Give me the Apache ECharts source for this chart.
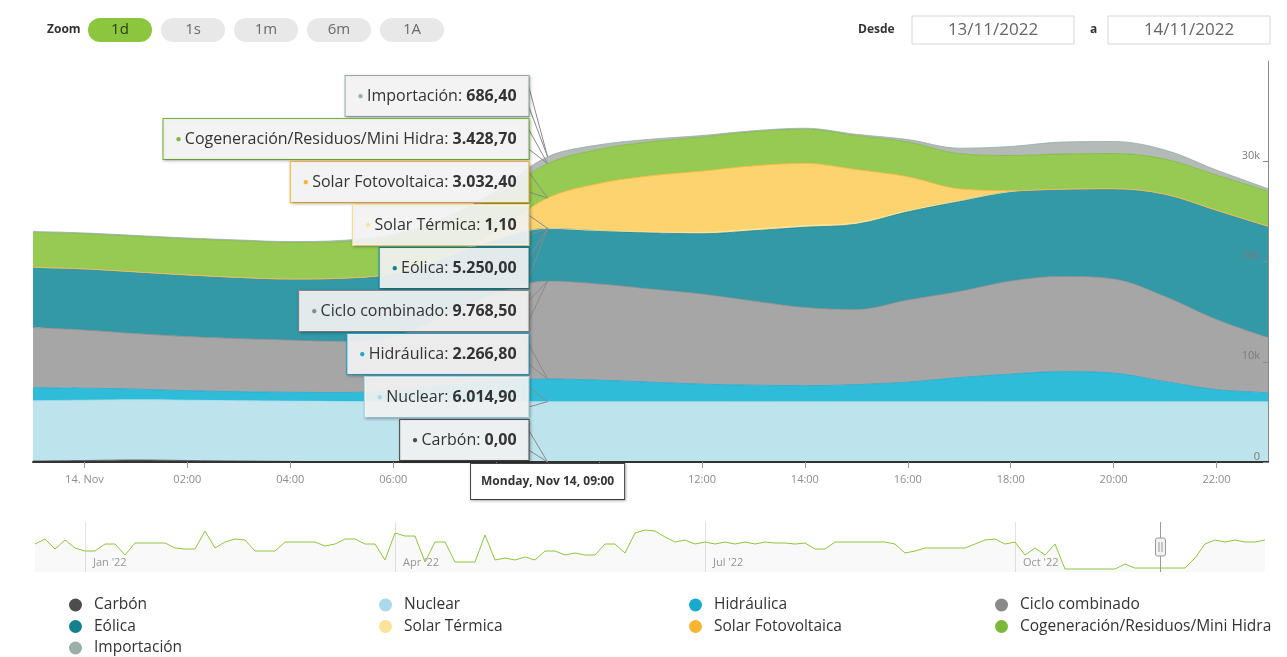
<!DOCTYPE html>
<html><head><meta charset="utf-8">
<script src="https://cdn.jsdelivr.net/npm/echarts@6/dist/echarts.min.js"></script>
<style>html,body{margin:0;padding:0;background:#fff}#c{width:1287px;height:657px}</style>
</head><body><div id="c"></div>
<script>
// ---- data ----
const categories = ['23:00','00:00','01:00','02:00','03:00','04:00','05:00','06:00','07:00','08:00','09:00','10:00','11:00','12:00','13:00','14:00','15:00','16:00','17:00','18:00','19:00','20:00','21:00','22:00','23:00'];
const xTickLabels = ['','14. Nov','','02:00','','04:00','','06:00','','08:00','','10:00','','12:00','','14:00','','16:00','','18:00','','20:00','','22:00',''];
const seriesNames = ['Carbón','Nuclear','Hidráulica','Ciclo combinado','Eólica','Solar Térmica','Solar Fotovoltaica','Cogeneración/Residuos/Mini Hidra','Importación'];
const carbon = [100,150,200,150,100,60,20,0,0,0,0,0,0,0,0,0,0,0,0,0,0,0,0,0,0];
const nuclear = [6016,6015,6015,6014,6015,6016,6015,6015,6014,6015,6014.9,6015,6016,6015,6014,6015,6015,6016,6015,6014,6015,6015,6016,6015,6015];
const hydro = [1300,1200,1050,950,900,880,900,1100,1600,2000,2266.8,2150,1950,1750,1650,1600,1700,1950,2400,2750,3000,2850,2000,1200,900];
const ciclo = [6000,5800,5550,5400,5300,5200,5100,5400,7000,8800,9768.5,9600,9300,9000,8400,7800,7500,8200,8600,9300,9500,9400,8500,7000,5500];
const eolica = [6000,6100,6150,6150,6100,6100,6300,6300,5800,5400,5250,5300,5600,6000,7000,8000,8500,8800,9000,8900,8700,9000,10200,10900,11100];
const solarTermica = [2,2,2,2,2,2,2,2,2,1,1.1,20,80,150,180,180,150,100,40,10,3,3,3,3,3];
const solarFV = [0,0,0,0,0,0,0,0,30,800,3032.4,4700,5600,6100,6300,6200,5300,3400,1200,100,0,0,0,0,0];
const cogen = [3500,3500,3550,3600,3650,3650,3650,3600,3500,3450,3428.7,3400,3400,3400,3400,3400,3400,3450,3500,3500,3500,3500,3500,3500,3500];
const importacion = [80,80,80,80,80,80,120,250,400,550,686.4,450,250,150,100,100,120,250,550,900,1200,1200,900,500,250];
const yTicks = [0,10000,20000,30000,40000];
const tipCategory = '09:00';
const tipHeader = 'Monday, Nov 14, 09:00';
// navigator (overview line)
const navigatorSeries = [28,33,23,32,24,21,21,28,28,17,29,29,29,29,24,23,23,41,24,30,33,32,21,21,21,30,30,30,30,26,28,33,33,28,28,12,39,36,36,10,30,30,10,10,10,37,12,14,12,15,12,21,21,17,19,17,17,28,28,19,39,42,41,35,30,32,28,30,28,30,28,30,28,30,29,29,28,29,23,23,30,30,30,30,30,30,28,19,21,24,24,24,24,24,28,32,33,28,30,17,24,17,28,3,3,3,3,3,3,8,4,4,4,4,4,4,14,28,32,30,32,30,30,32];
const navLabelIdx = [5,36,67,98];
const navLabelText = ["Jan '22","Apr '22","Jul '22","Oct '22"];
const navHandleIdx = 112.5;
const zoomButtons = ['1d','1s','1m','6m','1A'];
const dateFrom = '13/11/2022', dateTo = '14/11/2022';

// ---- styles ----
const FONT = '"Open Sans", "Noto Sans", sans-serif';
const legendColors = ['#4d4d4d','#a9d9ea','#1aa9cf','#8a8a8a','#12808f','#fde29a','#f7b531','#7cb83a','#9aafa8'];
const areaColors = ['#4d4d4d','#bde3ed','#2fbcd9','#a6a6a6','#3399a7','#fde39b','#fcd36f','#96ca53','#b3bab8'];
const seriesData = [carbon,nuclear,hydro,ciclo,eolica,solarTermica,solarFV,cogen,importacion];

function fmt(v){
  const s = v.toFixed(2); let [i,d] = s.split('.');
  i = i.replace(/\B(?=(\d{3})+(?!\d))/g,'.');
  return i + ',' + d;
}

const chart = echarts.init(document.getElementById('c'));
const series = seriesData.map((arr,k)=>({
  name: seriesNames[k], type:'line', stack:'total', data: arr,
  xAxisIndex:0, yAxisIndex:0,
  symbol:'none', smooth:0.35,
  itemStyle:{color: legendColors[k]},
  lineStyle:{width:1, color: legendColors[k], opacity:0.8},
  areaStyle:{color: areaColors[k], opacity:1},
  emphasis:{disabled:true}
}));
series.push({
  type:'line', data: navigatorSeries, xAxisIndex:1, yAxisIndex:1,
  symbol:'none', lineStyle:{width:1, color:'#8cc63f'},
  areaStyle:{color:'rgba(0,0,0,0.035)'}, silent:true
});

const legendCols = [
  {names:['Carbón','Eólica','Importación'], left:69},
  {names:['Nuclear','Solar Térmica'], left:379},
  {names:['Hidráulica','Solar Fotovoltaica'], left:689},
  {names:['Ciclo combinado','Cogeneración/Residuos/Mini Hidra'], left:995}
];

const option = {
  animation:false,
  textStyle:{fontFamily: FONT},
  grid:[
    {left:33, right:19, top:61, height:401, containLabel:false},
    {left:35, right:22, top:522, height:50}
  ],
  xAxis:[
    {type:'category', gridIndex:0, data:categories, boundaryGap:false, z:5,
     axisLine:{lineStyle:{color:'#333', width:2}},
     axisTick:{interval:(i)=>xTickLabels[i]!=='', length:6, lineStyle:{color:'#999'}},
     axisLabel:{interval:0, formatter:(v,i)=>xTickLabels[i], color:'#8c8c8c', fontSize:11, margin:12},
     splitLine:{show:false}},
    {type:'category', gridIndex:1, data:navigatorSeries.map((_,i)=>i), boundaryGap:false,
     axisLine:{show:false}, axisTick:{show:false},
     axisLabel:{inside:true, interval:0, margin:4, align:'left', padding:[0,0,0,8],
       formatter:(v,i)=>{const k=navLabelIdx.indexOf(i); return k>=0?navLabelText[k]:'';}, color:'#999', fontSize:11},
     splitLine:{show:true, interval:(i)=>navLabelIdx.indexOf(i)>=0, lineStyle:{color:'#e3e3e3'}}}
  ],
  yAxis:[
    {type:'value', gridIndex:0, position:'right', min:yTicks[0], max:yTicks[yTicks.length-1], interval:10000, z:5,
     axisLine:{show:true, lineStyle:{color:'#8a8a8a'}},
     axisTick:{show:true, inside:true, length:5, lineStyle:{color:'#8a8a8a'}},
     axisLabel:{inside:true, margin:8, showMaxLabel:false, verticalAlign:'bottom', color:'#7a7a7a', fontSize:11,
       formatter:(v)=> v===0?'0':(v/1000)+'k'},
     splitLine:{show:false}},
    {type:'value', gridIndex:1, min:0, max:50, show:false}
  ],
  legend: legendCols.map(c=>({
    data:c.names, orient:'vertical', left:c.left, top:597, padding:0, itemWidth:13, itemHeight:13, itemGap:5.5,
    icon:'circle', textStyle:{fontSize:15.5, color:'#333', lineHeight:16, padding:[0,0,0,7], fontFamily:FONT}
  })),
  series
};
chart.setOption(option);

// ---- overlays (controls, split tooltip, navigator handle) ----
const g = [];
g.push({type:'text', z:100, style:{x:47, y:30, text:'Zoom', verticalAlign:'middle', font:'bold 12px '+FONT, fill:'#333'}});
zoomButtons.forEach((b,i)=>{
  const x = 88 + i*73;
  g.push({type:'rect', z:100, shape:{x:x, y:18, width:64, height:24, r:12}, style:{fill: i===0?'#8cc63f':'#e8e8e8'}});
  g.push({type:'text', z:101, style:{x:x+32, y:30, text:b, align:'center', verticalAlign:'middle', font:'15px '+FONT, fill: i===0?'#2a3a18':'#6a6a6a'}});
});
g.push({type:'text', z:100, style:{x:858, y:30, text:'Desde', verticalAlign:'middle', font:'bold 12px '+FONT, fill:'#333'}});
g.push({type:'rect', z:100, shape:{x:912, y:16, width:162, height:28}, style:{fill:'#fff', stroke:'#d6d6d6', lineWidth:1}});
g.push({type:'text', z:101, style:{x:993, y:30, text:dateFrom, align:'center', verticalAlign:'middle', font:'17px '+FONT, fill:'#666'}});
g.push({type:'text', z:100, style:{x:1090, y:30, text:'a', verticalAlign:'middle', font:'bold 12px '+FONT, fill:'#333'}});
g.push({type:'rect', z:100, shape:{x:1108, y:16, width:162, height:28}, style:{fill:'#fff', stroke:'#d6d6d6', lineWidth:1}});
g.push({type:'text', z:101, style:{x:1189, y:30, text:dateTo, align:'center', verticalAlign:'middle', font:'17px '+FONT, fill:'#666'}});

// split tooltip
const tipIndex = categories.indexOf(tipCategory);
let cum = 0; const items = [];
seriesData.forEach((arr,k)=>{
  cum += arr[tipIndex];
  const p = chart.convertToPixel({xAxisIndex:0, yAxisIndex:0}, [tipIndex, cum]);
  items.push({k, ax:p[0], ay:p[1], val:arr[tipIndex]});
});
items.reverse();
const H = 40, GAP = 3, TOP = 62, BOTTOM = 460;
const ys = items.map(it=>it.ay - H/2);
for (let i=1;i<ys.length;i++) ys[i] = Math.max(ys[i], ys[i-1]+H+GAP);
if (ys[ys.length-1]+H > BOTTOM) ys[ys.length-1] = BOTTOM-H;
for (let i=ys.length-2;i>=0;i--) ys[i] = Math.min(ys[i], ys[i+1]-H-GAP);
if (ys[0] < TOP) { const d = TOP-ys[0]; for (let i=0;i<ys.length;i++) ys[i]+=d; }
items.forEach((it,i)=>{
  const bx = it.ax - 19, cy = ys[i] + H/2;
  const col = legendColors[it.k];
  g.push({type:'polyline', z:99, shape:{points:[[bx, ys[i]+10],[it.ax, it.ay],[bx, ys[i]+H-10]]},
    style:{fill:'none', stroke: '#8a8a8a', lineWidth:1}});
  g.push({type:'text', z:100, style:{
    x:bx, y:cy, align:'right', verticalAlign:'middle',
    text:'{d|●} {n|'+seriesNames[it.k]+': }{v|'+fmt(it.val)+'}',
    rich:{
      d:{fill: col, fontSize:10, lineHeight:18, fontFamily:FONT},
      n:{fill:'#333', fontSize:16, lineHeight:18, fontFamily:FONT},
      v:{fill:'#333', fontSize:16, fontWeight:'bold', lineHeight:18, fontFamily:FONT}
    },
    backgroundColor:'rgba(247,247,247,0.9)', borderColor: col, borderWidth:1,
    padding:[11,12,11,12], shadowBlur:3, shadowColor:'rgba(0,0,0,0.25)', shadowOffsetX:1, shadowOffsetY:1
  }});
});
const axX = items[0].ax;
g.push({type:'text', z:100, style:{x:axX, y:464, align:'center', verticalAlign:'top', text:tipHeader,
  font:'bold 12px '+FONT, fill:'#333', backgroundColor:'#fff', borderColor:'#444', borderWidth:1,
  padding:[12,10,11,10], shadowBlur:3, shadowColor:'rgba(0,0,0,0.25)', shadowOffsetX:1, shadowOffsetY:1}});

// navigator handle
const h0 = chart.convertToPixel({xAxisIndex:1, yAxisIndex:1}, [Math.floor(navHandleIdx), 0]);
const h1 = chart.convertToPixel({xAxisIndex:1, yAxisIndex:1}, [Math.ceil(navHandleIdx), 0]);
const hx = Math.round((h0[0]+h1[0])/2) + 0.5;
g.push({type:'line', z:100, shape:{x1:hx, y1:522, x2:hx, y2:572}, style:{stroke:'#999', lineWidth:1}});
g.push({type:'rect', z:101, shape:{x:hx-5, y:538, width:10, height:18, r:2}, style:{fill:'#f2f2f2', stroke:'#999', lineWidth:1}});
g.push({type:'line', z:102, shape:{x1:hx-1.5, y1:542, x2:hx-1.5, y2:552}, style:{stroke:'#999', lineWidth:1}});
g.push({type:'line', z:102, shape:{x1:hx+1.5, y1:542, x2:hx+1.5, y2:552}, style:{stroke:'#999', lineWidth:1}});

chart.setOption({graphic: g});
</script>
</body></html>
